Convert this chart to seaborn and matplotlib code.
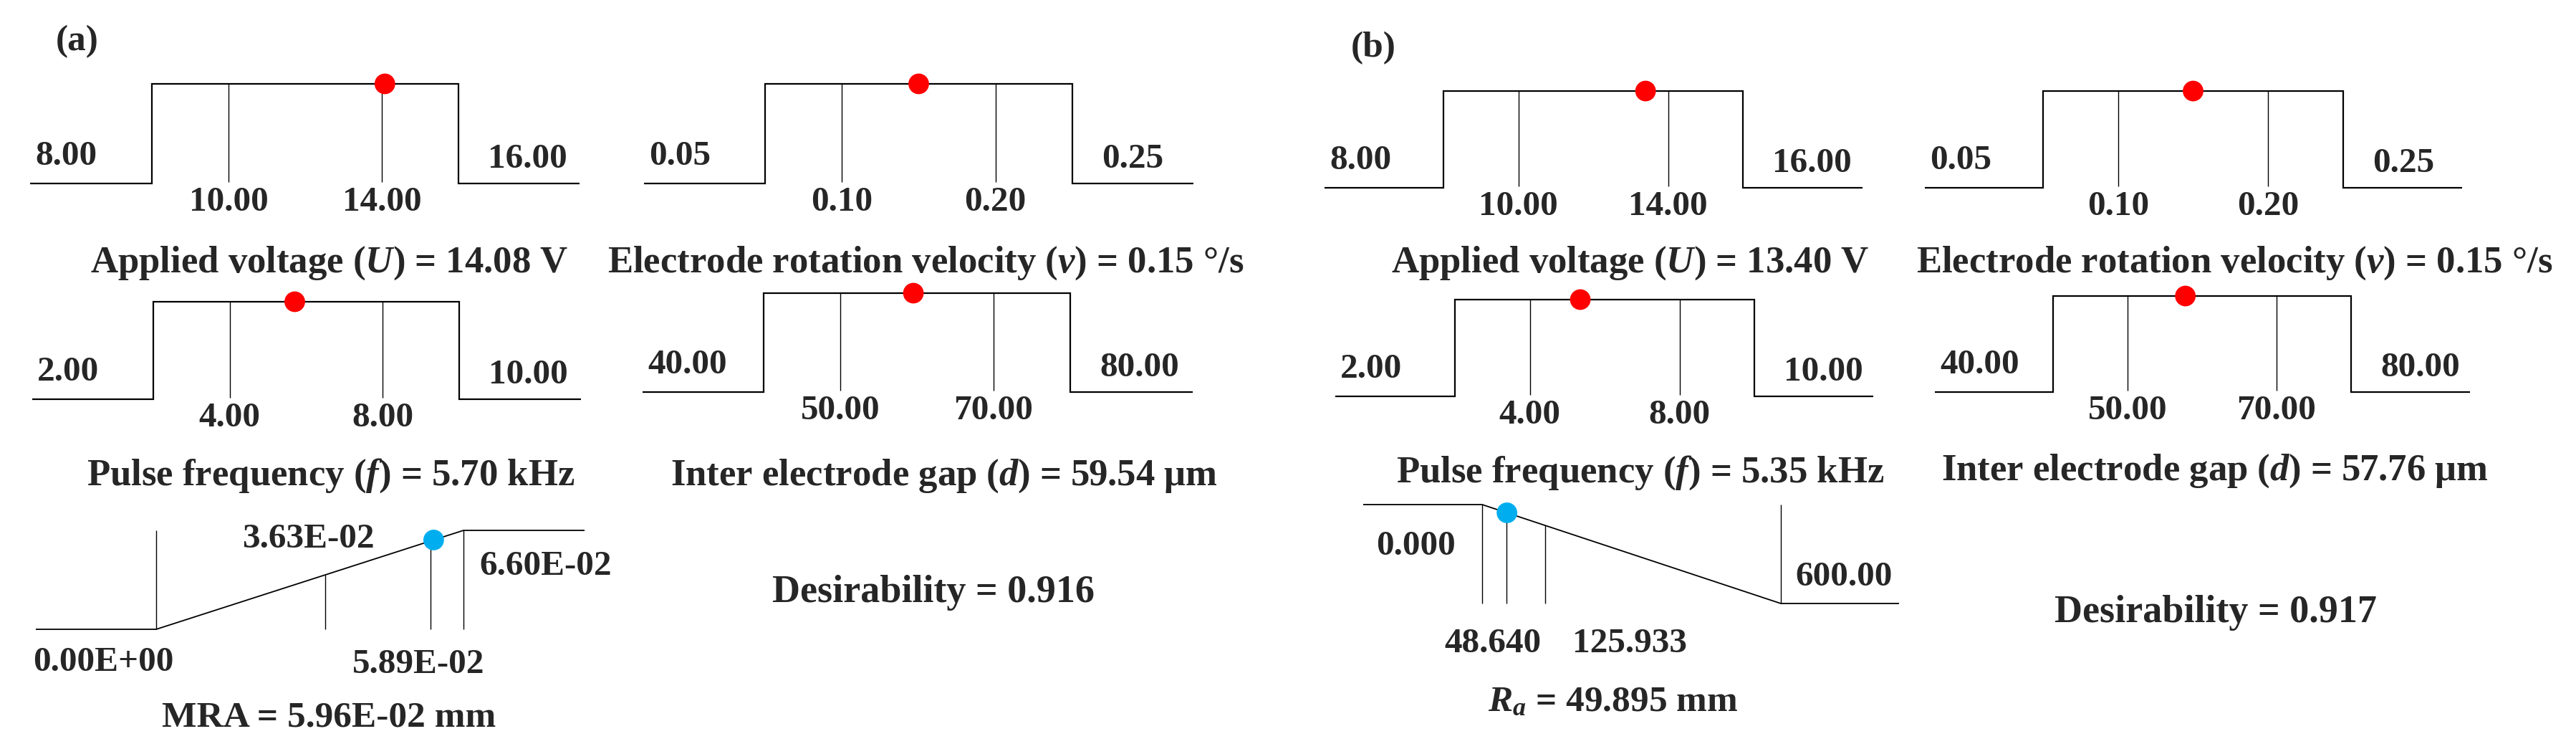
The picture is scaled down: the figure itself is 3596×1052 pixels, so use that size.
import numpy as np
import pandas as pd
import matplotlib
matplotlib.use("Agg")
import matplotlib.pyplot as plt
import seaborn as sns

# ---------------- data ----------------
factor_names   = ["Applied voltage", "Electrode rotation velocity", "Pulse frequency", "Inter electrode gap"]
factor_symbols = ["U", "v", "f", "d"]
factor_units   = ["V", "°/s", "kHz", "μm"]
factor_low     = [8.00, 0.05, 2.00, 40.00]
factor_high    = [16.00, 0.25, 10.00, 80.00]
factor_ticks   = [[10.00, 14.00], [0.10, 0.20], [4.00, 8.00], [50.00, 70.00]]
factor_low_labels  = ["8.00", "0.05", "2.00", "40.00"]
factor_high_labels = ["16.00", "0.25", "10.00", "80.00"]
factor_tick_labels = [["10.00", "14.00"], ["0.10", "0.20"], ["4.00", "8.00"], ["50.00", "70.00"]]

opt_a_factors = [14.08, 0.15, 5.70, 59.54]
opt_a_labels  = ["14.08", "0.15", "5.70", "59.54"]
opt_b_factors = [13.40, 0.15, 5.35, 57.76]
opt_b_labels  = ["13.40", "0.15", "5.35", "57.76"]

mra_low, mra_high = 0.0, 0.066
mra_ticks = [0.0363, 0.0589]
mra_low_label, mra_high_label = "0.00E+00", "6.60E-02"
mra_tick_labels = ["3.63E-02", "5.89E-02"]
mra_opt, mra_opt_label = 0.0596, "5.96E-02"

ra_low, ra_high = 0.0, 600.0
ra_ticks = [48.640, 125.933]
ra_low_label, ra_high_label = "0.000", "600.00"
ra_tick_labels = ["48.640", "125.933"]
ra_opt, ra_opt_label = 49.895, "49.895"

desirability = [0.916, 0.917]
panel_letters = ["(a)", "(b)"]

# ---------------- style ----------------
sns.set_style("white")
plt.rcParams["font.family"] = ["Liberation Serif", "DejaVu Serif"]
plt.rcParams["mathtext.fontset"] = "custom"
plt.rcParams["mathtext.rm"] = "Liberation Serif:bold"
plt.rcParams["mathtext.it"] = "Liberation Serif:italic:bold"
plt.rcParams["mathtext.bf"] = "Liberation Serif:bold"

W, H = 3596, 1052
fig = plt.figure(figsize=(W / 100, H / 100), dpi=100)
fig.patch.set_facecolor("white")

NUM_FS = 35.5
TITLE_FS = 38
LW_MAIN = 1.6
LW_TICK = 1.0
LW_SLOPE = 1.3
RED = "#FF0000"
BLUE = "#00AEEF"
DOT_S = 430

# pixel layout boxes: (L, a, b, R, y0, y1)
factor_boxes = [
    [(42, 212, 640, 809, 256, 117), (899, 1068, 1497, 1666, 256, 117),
     (45, 214, 641, 811, 557, 421), (897, 1066, 1494, 1665, 547, 409)],
    [(1849, 2015, 2433, 2600, 262, 127), (2687, 2852, 3271, 3437, 262, 127),
     (1864, 2031, 2449, 2615, 553, 418), (2701, 2866, 3282, 3448, 547, 413)],
]
mra_box = (50, 218, 647, 816, 878, 740)
ra_box = (1903, 2069, 2486, 2651, 842, 704)

factor_title_pos = [
    [(460, 380), (1292, 380), (462, 677), (1318, 677)],
    [(2276, 380), (3119, 380), (2290, 673), (3092, 670)],
]
resp_title_pos = [(459, 1013), (2252, 992)]
des_pos = [(1303, 840), (3093, 868)]
letter_pos = [(108, 70), (1917, 79)]


def make_axes(box, low, high):
    L, a, b, R, y0, y1 = box
    ax = fig.add_axes([L / W, 1 - y0 / H, (R - L) / W, (y0 - y1) / H])
    span = high - low
    xmin = low - (a - L) / (b - a) * span
    xmax = high + (R - b) / (b - a) * span
    ax.set_xlim(xmin, xmax)
    ax.set_ylim(0, 1)
    ax.set_axis_off()
    return ax, xmin, xmax


def path(ax, xs, ys, lw):
    df = pd.DataFrame({"x": xs, "y": ys})
    sns.lineplot(data=df, x="x", y="y", sort=False, estimator=None,
                 color="black", linewidth=lw, ax=ax, legend=False)
    ln = ax.lines[-1]
    ln.set_clip_on(False)
    ln.set_solid_joinstyle("miter")
    ln.set_solid_capstyle("butt")


def dot(ax, x, y, color):
    sns.scatterplot(x=[x], y=[y], color=color, s=DOT_S, edgecolor="none",
                    ax=ax, legend=False, zorder=6, clip_on=False)


def label(ax, text, x, dx, dy, ha):
    ax.annotate(text, xy=(x, 0), xycoords="data", xytext=(dx, dy),
                textcoords="offset pixels", ha=ha, va="baseline",
                fontsize=NUM_FS, fontweight="bold", annotation_clip=False)


def ftext(text, pos, fs=TITLE_FS):
    cx, base = pos
    fig.text(cx / W, 1 - base / H, text, ha="center", va="baseline",
             fontsize=fs, fontweight="bold")


def factor_d(x, low, high):
    return 1.0 if low <= x <= high else 0.0


for p, opts in enumerate([opt_a_factors, opt_b_factors]):
    opt_labels = [opt_a_labels, opt_b_labels][p]
    for i in range(4):
        low, high = factor_low[i], factor_high[i]
        ax, xmin, xmax = make_axes(factor_boxes[p][i], low, high)
        path(ax, [xmin, low, low, high, high, xmax], [0, 0, 1, 1, 0, 0], LW_MAIN)
        ax.vlines(factor_ticks[i], 0.015, [factor_d(t, low, high) for t in factor_ticks[i]],
                  colors="black", linewidth=LW_TICK, clip_on=False)
        dot(ax, opts[i], factor_d(opts[i], low, high), RED)
        label(ax, factor_low_labels[i], xmin, 7, 26, "left")
        label(ax, factor_high_labels[i], high, 41, 22, "left")
        for t, tl in zip(factor_ticks[i], factor_tick_labels[i]):
            label(ax, tl, t, 0, -38, "center")
        ftext(f"{factor_names[i]} (${factor_symbols[i]}$) = {opt_labels[i]} {factor_units[i]}",
              factor_title_pos[p][i])

# ---- MRA (maximize) ----
def mra_d(x):
    return float(np.clip((x - mra_low) / (mra_high - mra_low), 0, 1))

ax, xmin, xmax = make_axes(mra_box, mra_low, mra_high)
path(ax, [xmin, mra_low, mra_high, xmax], [0, 0, 1, 1], LW_SLOPE)
ax.vlines([mra_low, mra_high], 0, 1, colors="black", linewidth=LW_TICK, clip_on=False)
ax.vlines(mra_ticks, 0, [mra_d(t) for t in mra_ticks], colors="black", linewidth=LW_TICK, clip_on=False)
dot(ax, mra_opt, mra_d(mra_opt), BLUE)
label(ax, mra_low_label, xmin, -4, -58, "left")
label(ax, mra_high_label, mra_high, 22, 76, "left")
label(ax, mra_tick_labels[0], mra_ticks[0], -24, 114, "center")
label(ax, mra_tick_labels[1], mra_ticks[1], -17, -61, "center")
ftext(f"MRA = {mra_opt_label} mm", resp_title_pos[0], 37)

# ---- Ra (minimize) ----
def ra_d(x):
    return float(np.clip((ra_high - x) / (ra_high - ra_low), 0, 1))

ax, xmin, xmax = make_axes(ra_box, ra_low, ra_high)
path(ax, [xmin, ra_low, ra_high, xmax], [1, 1, 0, 0], LW_SLOPE)
ax.vlines([ra_low, ra_high], 0, 1, colors="black", linewidth=LW_TICK, clip_on=False)
ax.vlines(ra_ticks, 0, [ra_d(t) for t in ra_ticks], colors="black", linewidth=LW_TICK, clip_on=False)
dot(ax, ra_opt, ra_d(ra_opt), BLUE)
label(ax, ra_low_label, ra_low, -37, 68, "right")
label(ax, ra_high_label, ra_high, 20, 25, "left")
label(ax, ra_tick_labels[0], ra_ticks[0], -19, -68, "center")
label(ax, ra_tick_labels[1], ra_ticks[1], 38, -68, "left")
ftext(f"$R_a$ = {ra_opt_label} mm", resp_title_pos[1], 37)

for p in range(2):
    ftext(f"Desirability = {desirability[p]:.3f}", des_pos[p], 39)
    ftext(panel_letters[p], letter_pos[p], 37)

fig.savefig("out.png", dpi=100, facecolor="white")
